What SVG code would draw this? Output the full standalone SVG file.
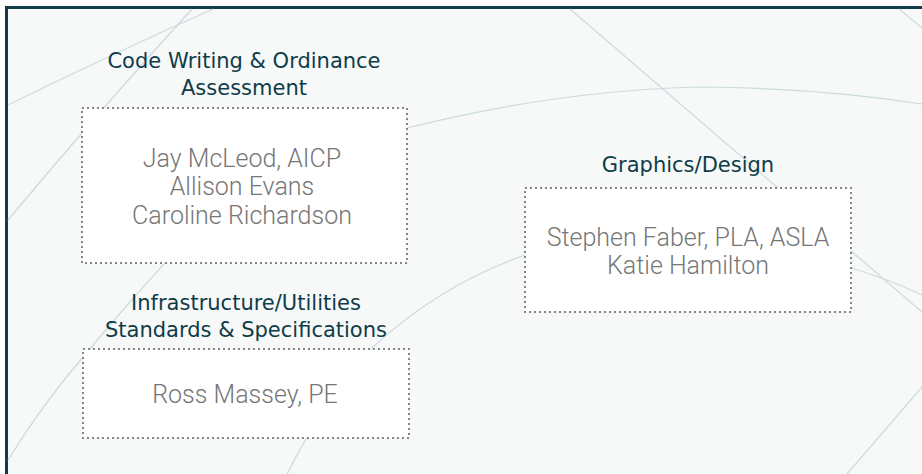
<svg xmlns="http://www.w3.org/2000/svg" width="922" height="474" viewBox="0 0 922 474">
  <style>
    .frame { fill: #0f3c4a; }
    .bg { fill: #f7f8f8; }
    .deco { fill: none; stroke: #cbdadf; stroke-width: 1.2; }
    .box { fill: #ffffff; stroke: #858585; stroke-width: 2; stroke-dasharray: 2 3; }
    .head { font-family: "DejaVu Sans", Verdana, sans-serif; font-size: 21px; fill: #0e3c49; text-anchor: middle; }
    .name { font-family: Roboto, "Liberation Sans", sans-serif; font-weight: 300; font-size: 25px; fill: #767676; text-anchor: middle; }
  </style>

  <!-- page background and frame -->
  <rect x="0" y="0" width="922" height="474" fill="#ffffff"/>
  <rect class="bg" x="5" y="6" width="917" height="468"/>
  <rect class="frame" x="5" y="6" width="917" height="3"/>
  <rect class="frame" x="5" y="6" width="3" height="468"/>

  <!-- decorative background strokes -->
  <g id="decor">
    <path class="deco" d="M213,9 Q110,55 8,105"/>
    <path class="deco" d="M192,9 Q100,110 8,220"/>
    <path class="deco" d="M300,160 Q360,140 407,128 Q560,90 700,87 Q820,88 922,104"/>
    <path class="deco" d="M570,9 L922,312"/>
    <path class="deco" d="M899,9 L922,28"/>
    <path class="deco" d="M287,474 Q330,390 373,347 Q440,285 525,255 Q620,225 700,240"/>
    <path class="deco" d="M800,255 Q870,270 922,295"/>
    <path class="deco" d="M922,387 L847,474"/>
    <path class="deco" d="M200,225 Q130,300 90,349 Q45,400 8,460"/>
  </g>

  <g id="code-writing">
    <text class="head" x="244" y="68">Code Writing &amp; Ordinance</text>
    <text class="head" x="244" y="95">Assessment</text>
    <rect class="box" x="82" y="108" width="325" height="155"/>
    <text class="name" x="242" y="167">Jay McLeod, AICP</text>
    <text class="name" x="242" y="195">Allison Evans</text>
    <text class="name" x="242" y="224">Caroline Richardson</text>
  </g>

  <g id="graphics-design">
    <text class="head" x="688" y="172">Graphics/Design</text>
    <rect class="box" x="525" y="188" width="326" height="124"/>
    <text class="name" x="688" y="246">Stephen Faber, PLA, ASLA</text>
    <text class="name" x="688" y="274">Katie Hamilton</text>
  </g>

  <g id="infrastructure">
    <text class="head" x="246" y="310">Infrastructure/Utilities</text>
    <text class="head" x="246" y="337">Standards &amp; Specifications</text>
    <rect class="box" x="83" y="349" width="326" height="89"/>
    <text class="name" x="245" y="403">Ross Massey, PE</text>
  </g>
</svg>
